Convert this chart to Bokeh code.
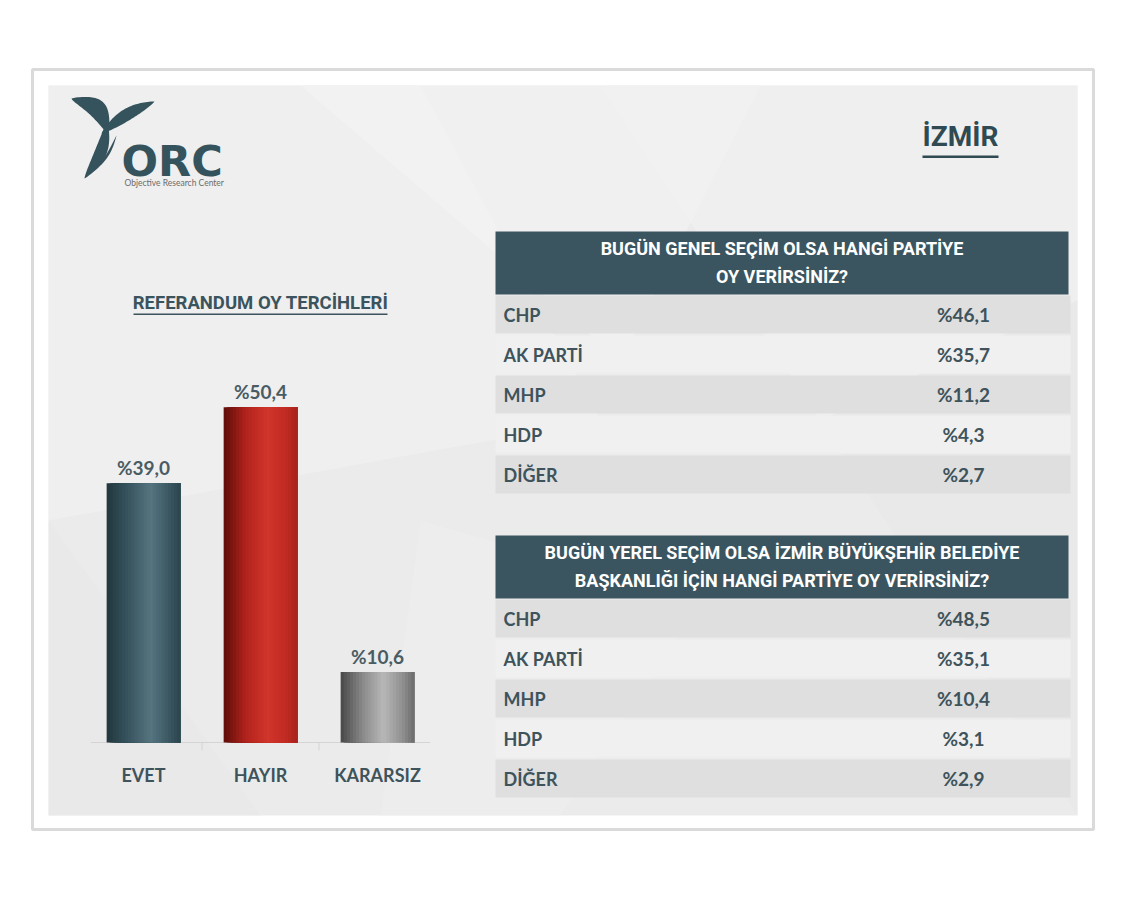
import numpy as np
from bokeh.plotting import figure
from bokeh.models import Range1d, ColumnDataSource
from bokeh.core.properties import value
from bokeh.embed import file_html
from bokeh.resources import INLINE

# ---------------- data ----------------
ref_title = "REFERANDUM OY TERCİHLERİ"
ref_categories = ["EVET", "HAYIR", "KARARSIZ"]
ref_values = [39.0, 50.4, 10.6]

city = "İZMİR"

q1_title = ["BUGÜN GENEL SEÇİM OLSA HANGİ PARTİYE", "OY VERİRSİNİZ?"]
q1_parties = ["CHP", "AK PARTİ", "MHP", "HDP", "DİĞER"]
q1_values = [46.1, 35.7, 11.2, 4.3, 2.7]

q2_title = ["BUGÜN YEREL SEÇİM OLSA İZMİR BÜYÜKŞEHİR BELEDİYE",
            "BAŞKANLIĞI İÇİN HANGİ PARTİYE OY VERİRSİNİZ?"]
q2_parties = ["CHP", "AK PARTİ", "MHP", "HDP", "DİĞER"]
q2_values = [48.5, 35.1, 10.4, 3.1, 2.9]


def fmt(v):
    return "%" + f"{v:.1f}".replace(".", ",")


# ---------------- layout constants ----------------
W, H = 1125, 903
BAR_X0 = 143.0      # pixel centre of first bar
BAR_STEP = 117.0    # pixels between bars
BAR_W = 0.63        # in category units
BASE_Y = 742.0      # pixel of 0 %
PX_PCT = 6.65       # pixels per percentage point

TEXT_C = "#3e535b"
HEAD_C = "#3a5560"
COND = "Roboto"
LABEL_FONT = "Lato"

p = figure(width=W, height=H, x_range=Range1d(0, W), y_range=Range1d(H, 0),
           output_backend="svg", toolbar_location=None, min_border=0,
           background_fill_color="white", border_fill_color="white")
p.axis.visible = False
p.grid.visible = False
p.outline_line_color = None
p.min_border_left = p.min_border_right = p.min_border_top = p.min_border_bottom = 0

# scales for the bar chart (mapped through the library)
cat_start = -BAR_X0 / BAR_STEP
cat_end = cat_start + W / BAR_STEP
pct_start = -(H - BASE_Y) / PX_PCT
pct_end = pct_start + H / PX_PCT
p.extra_x_ranges = {"cat": Range1d(cat_start, cat_end)}
p.extra_y_ranges = {"pct": Range1d(pct_start, pct_end)}

# ---------------- frame & slide ----------------
p.quad(left=32, right=1093, top=69, bottom=829, fill_color="white",
       line_color="#dadada", line_width=3)
p.quad(left=48, right=1077, top=85, bottom=815, fill_color="#ebebeb", line_color=None)
facets = [
    ([48, 420, 600, 48], [85, 85, 420, 520], "#f2f2f2", 0.6),
    ([300, 760, 620], [85, 85, 360], "#f3f3f3", 0.6),
    ([600, 1077, 1077, 820], [85, 85, 300, 420], "#f1f1f1", 0.6),
    ([48, 260, 48], [520, 815, 815], "#e7e7e7", 0.5),
    ([420, 700, 560, 380], [520, 600, 815, 815], "#efefef", 0.5),
    ([820, 1077, 1077], [420, 300, 815], "#e8e8e8", 0.5),
]
for xs, ys, c, a in facets:
    p.patch(xs, ys, fill_color=c, fill_alpha=a, line_color=None)


# ---------------- logo ----------------
def leaf(x0, y0, x1, y1, w, bend, n=40, p0=0.8):
    t = np.linspace(0, 1, n)
    dx, dy = x1 - x0, y1 - y0
    L = np.hypot(dx, dy)
    nx, ny = -dy / L, dx / L
    cx = x0 + dx * t + nx * bend * np.sin(np.pi * t)
    cy = y0 + dy * t + ny * bend * np.sin(np.pi * t)
    half = w * np.sin(np.pi * t) ** p0
    xs = np.concatenate([cx + nx * half, (cx - nx * half)[::-1]])
    ys = np.concatenate([cy + ny * half, (cy - ny * half)[::-1]])
    return list(xs), list(ys)


LOGO_C = "#35535c"
for args in [(71, 98, 108, 133, 9, -10), (107, 122, 84, 178, 6, -5),
             (101, 133, 154, 101, 6, -3), (116, 135, 92, 172, 1.3, -3)]:
    xs, ys = leaf(*args)
    p.patch(xs, ys, fill_color=LOGO_C, line_color=None)
p.text(x=[121], y=[160], text=["ORC"], text_font=value("DejaVu Sans"), text_font_style="bold",
       text_font_size="43px", text_color=LOGO_C, text_baseline="middle")
p.text(x=[124], y=[182], text=["Objective Research Center"], text_font=value("Lato"),
       text_font_size="8.5px", text_color="#6b6b6b", text_baseline="middle")

# ---------------- city ----------------
p.text(x=[960], y=[136], text=[city], text_font=value(COND), text_font_style="bold",
       text_font_size="28px", text_color="#2f4a52", text_align="center",
       text_baseline="middle")
p.quad(left=922, right=998, top=155, bottom=157.5, fill_color="#2f4a52", line_color=None)

# ---------------- bar chart ----------------
p.text(x=[260], y=[302], text=[ref_title], text_font=value(COND), text_font_style="bold",
       text_font_size="18.5px", text_color="#3b535c", text_align="center",
       text_baseline="middle")
p.quad(left=133, right=387, top=313, bottom=314.5, fill_color="#3b535c", line_color=None)

idx = list(range(len(ref_categories)))
p.segment(x0=[-0.45], y0=[0], x1=[2.45], y1=[0], x_range_name="cat", y_range_name="pct",
          line_color="#d4d4d4", line_width=1)
p.segment(x0=[0.5, 1.5], y0=[0, 0], x1=[0.5, 1.5], y1=[-1.2, -1.2], x_range_name="cat",
          y_range_name="pct", line_color="#d4d4d4", line_width=1)

profiles = [
    [(0.0, "#22363d"), (0.25, "#34505a"), (0.6, "#557580"), (0.85, "#3a5761"), (1.0, "#2c444c")],
    [(0.0, "#5e0d0a"), (0.3, "#b1231c"), (0.6, "#d1352b"), (0.85, "#c02a22"), (1.0, "#a6221c")],
    [(0.0, "#474747"), (0.3, "#8a8a8a"), (0.58, "#b8b8b8"), (0.85, "#8e8e8e"), (1.0, "#6b6b6b")],
]


def hex2rgb(h):
    return np.array([int(h[i:i + 2], 16) for i in (1, 3, 5)], float)


def interp(stops, t):
    for (t0, c0), (t1, c1) in zip(stops[:-1], stops[1:]):
        if t0 <= t <= t1:
            f = (t - t0) / (t1 - t0)
            c = hex2rgb(c0) * (1 - f) + hex2rgb(c1) * f
            return "#%02x%02x%02x" % tuple(int(round(v)) for v in c)
    return stops[-1][1]


# layered slices: each layer spans from its own left edge to the bar's right edge
NS = 24
sx, stop, scol, sw = [], [], [], []
for i, v in zip(idx, ref_values):
    right = i + BAR_W / 2
    for k in range(NS):
        left = i - BAR_W / 2 + BAR_W * k / NS
        sx.append((left + right) / 2)
        sw.append(right - left)
        stop.append(v)
        scol.append(interp(profiles[i], (k + 0.5) / NS))
slices = ColumnDataSource(dict(x=sx, top=stop, color=scol, w=sw))
p.vbar(x="x", width="w", top="top", bottom=0, source=slices, fill_color="color",
       line_color=None, x_range_name="cat", y_range_name="pct")

bars = ColumnDataSource(dict(x=idx, top=ref_values, cat=ref_categories,
                             lab=[fmt(v) for v in ref_values]))
p.text(x="x", y="top", text="lab", source=bars, x_range_name="cat", y_range_name="pct",
       text_font=value(LABEL_FONT), text_font_style="bold", text_font_size="19px",
       text_color="#4a5c63", text_align="center", text_baseline="middle", y_offset=-16)
p.text(x="x", y=0, text="cat", source=bars, x_range_name="cat", y_range_name="pct",
       text_font=value(LABEL_FONT), text_font_style="bold", text_font_size="18px",
       text_color="#3e535b", text_align="center", text_baseline="middle", y_offset=32)


# ---------------- tables ----------------
def table(top, title_lines, parties, values):
    left, right, head_h, row_h = 495, 1068, 63, 40
    p.quad(left=left, right=right, top=top, bottom=top + head_h, fill_color=HEAD_C,
           line_color=None)
    cx = (left + right) / 2
    ys = [top + 17 + 28 * j for j in range(len(title_lines))]
    p.text(x=[cx] * len(title_lines), y=ys, text=title_lines, text_font=value(COND),
           text_font_style="bold", text_font_size="18px", text_color="white",
           text_align="center", text_baseline="middle")
    r0 = top + head_h
    n = len(parties)
    tops = [r0 + row_h * i + 1 for i in range(n)]
    bots = [t + row_h - 2 for t in tops]
    cols = ["#dfdfdf" if i % 2 == 0 else "#f0f0f0" for i in range(n)]
    p.quad(left=left, right=right + 2, top=tops, bottom=bots, fill_color=cols,
           line_color=None)
    mids = [r0 + row_h * i + row_h / 2 for i in range(n)]
    p.text(x=[left + 8] * n, y=mids, text=parties, text_font=value(LABEL_FONT),
           text_font_style="bold", text_font_size="18px", text_color=TEXT_C,
           text_baseline="middle")
    p.text(x=[963] * n, y=mids, text=[fmt(v) for v in values], text_font=value(LABEL_FONT),
           text_font_style="bold", text_font_size="19px", text_color=TEXT_C,
           text_align="center", text_baseline="middle")


table(231, q1_title, q1_parties, q1_values)
table(535, q2_title, q2_parties, q2_values)

open("out.html", "w").write(file_html(p, INLINE))
